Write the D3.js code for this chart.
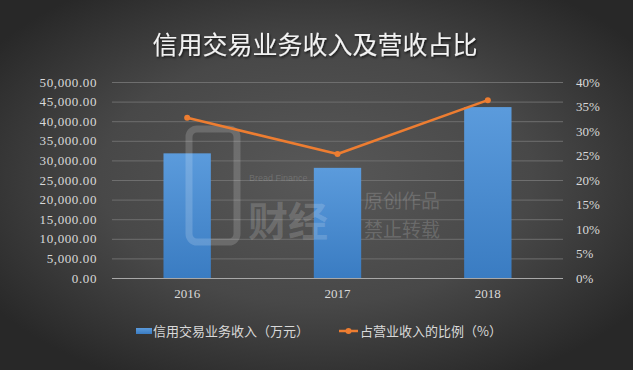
<!DOCTYPE html>
<html>
<head>
<meta charset="utf-8">
<script src="https://cdn.jsdelivr.net/npm/d3@7"></script>
<style>
  body { margin: 0; background: #333; }
  svg { display: block; }
</style>
</head>
<body>
<div id="chart-area"></div>
<script>
const width = 633,
  height = 370;

const margin = {top: 82, right: 70, bottom: 92, left: 112};

// data
const years = ["2016", "2017", "2018"];
const income = [31800, 28100, 43600];      // 信用交易业务收入（万元）
const ratio = [32.7, 25.3, 36.3];          // 占营业收入的比例（%）
const leftTicks = [0, 5000, 10000, 15000, 20000, 25000, 30000, 35000, 40000, 45000, 50000];
const rightTicks = [0, 5, 10, 15, 20, 25, 30, 35, 40];

const svg = d3.select("#chart-area")
  .append("svg")
  .attr("width", width)
  .attr("height", height);

const defs = svg.append("defs");
const bg = defs.append("radialGradient")
  .attr("id", "bg")
  .attr("cx", "50%").attr("cy", "48%").attr("r", "62%");
bg.append("stop").attr("offset", "0%").attr("stop-color", "#585858");
bg.append("stop").attr("offset", "55%").attr("stop-color", "#484848");
bg.append("stop").attr("offset", "100%").attr("stop-color", "#282828");

const barGrad = defs.append("linearGradient")
  .attr("id", "barGrad")
  .attr("x1", 0).attr("y1", 0).attr("x2", 0).attr("y2", 1);
barGrad.append("stop").attr("offset", "0%").attr("stop-color", "#5b9bdc");
barGrad.append("stop").attr("offset", "100%").attr("stop-color", "#3a7cc2");

const shadow = defs.append("filter").attr("id", "shadow");
shadow.append("feDropShadow")
  .attr("dx", 1).attr("dy", 1.5).attr("stdDeviation", 1.2)
  .attr("flood-color", "#000").attr("flood-opacity", 0.7);

svg.append("rect")
  .attr("width", width)
  .attr("height", height)
  .attr("fill", "url(#bg)");

// scales
const x = d3.scaleBand()
  .domain(years)
  .range([margin.left, width - margin.right]);

const y = d3.scaleLinear()
  .domain([0, 50000])
  .range([height - margin.bottom, margin.top]);

const y2 = d3.scaleLinear()
  .domain([0, 40])
  .range([height - margin.bottom, margin.top]);

const serif = "'Liberation Serif', 'DejaVu Serif', serif";
const cjk = "'Noto Sans CJK SC', sans-serif";

// grid
svg.append("g")
  .selectAll("line")
  .data(leftTicks)
  .join("line")
  .attr("x1", margin.left)
  .attr("x2", width - margin.right)
  .attr("y1", d => y(d) + 0.5)
  .attr("y2", d => y(d) + 0.5)
  .attr("stroke", d => d === 0 ? "#a8a8a8" : "#6e6e6e")
  .attr("stroke-width", 1);

// left axis
const yAxis = g => g
  .attr("transform", `translate(${margin.left - 12},0)`)
  .call(d3.axisLeft(y).tickValues(leftTicks).tickSize(0).tickFormat(d3.format(",.2f")))
  .call(g => g.select(".domain").remove())
  .call(g => g.selectAll("text")
    .attr("fill", "#d9d9d9")
    .attr("font-family", serif)
    .attr("font-size", 13)
    .attr("letter-spacing", 0.6));

// right axis
const y2Axis = g => g
  .attr("transform", `translate(${width - margin.right + 10},0)`)
  .call(d3.axisRight(y2).tickValues(rightTicks).tickSize(0).tickFormat(d => d + "%"))
  .call(g => g.select(".domain").remove())
  .call(g => g.selectAll("text")
    .attr("fill", "#d9d9d9")
    .attr("font-family", serif)
    .attr("font-size", 13));

// bottom axis
const xAxis = g => g
  .attr("transform", `translate(0,${height - margin.bottom + 8})`)
  .call(d3.axisBottom(x).tickSize(0))
  .call(g => g.select(".domain").remove())
  .call(g => g.selectAll("text")
    .attr("fill", "#d9d9d9")
    .attr("font-family", serif)
    .attr("font-size", 13));

svg.append("g").call(yAxis);
svg.append("g").call(y2Axis);
svg.append("g").call(xAxis);

// bars
const barW = x.bandwidth() * 0.315;
svg.append("g")
  .selectAll("rect")
  .data(income)
  .join("rect")
  .attr("x", (d, i) => x(years[i]) + x.bandwidth() / 2 - barW / 2)
  .attr("y", d => y(d))
  .attr("width", barW)
  .attr("height", d => y(0) - y(d))
  .attr("fill", "url(#barGrad)");

// watermark (sits over the bars)
const wm = svg.append("g")
  .attr("fill", "#ffffff")
  .attr("fill-opacity", 0.17)
  .attr("font-family", cjk);
wm.append("rect")
  .attr("x", 189).attr("y", 129).attr("width", 48).attr("height", 113)
  .attr("rx", 8)
  .attr("fill", "none")
  .attr("stroke", "#ffffff")
  .attr("stroke-opacity", 0.17)
  .attr("stroke-width", 7);
wm.append("text").attr("x", 249).attr("y", 181).attr("font-size", 9)
  .attr("font-family", "'Liberation Sans', sans-serif").text("Bread Finance");
wm.append("text").attr("x", 248).attr("y", 236).attr("font-size", 40)
  .attr("font-weight", "bold").text("财经");
wm.append("text").attr("x", 364).attr("y", 208).attr("font-size", 19).text("原创作品");
wm.append("text").attr("x", 364).attr("y", 237).attr("font-size", 19).text("禁止转载");

// line
const line = d3.line()
  .x((d, i) => x(years[i]) + x.bandwidth() / 2)
  .y(d => y2(d));

svg.append("path")
  .datum(ratio)
  .attr("fill", "none")
  .attr("stroke", "#ed7d31")
  .attr("stroke-width", 2.5)
  .attr("stroke-linejoin", "round")
  .attr("d", line);

svg.append("g")
  .selectAll("circle")
  .data(ratio)
  .join("circle")
  .attr("cx", (d, i) => x(years[i]) + x.bandwidth() / 2)
  .attr("cy", d => y2(d))
  .attr("r", 3)
  .attr("fill", "#ed7d31");

// title
svg.append("text")
  .attr("x", 315)
  .attr("y", 54)
  .attr("text-anchor", "middle")
  .attr("fill", "#f2f2f2")
  .attr("font-family", cjk)
  .attr("font-size", 25)
  .attr("filter", "url(#shadow)")
  .text("信用交易业务收入及营收占比");

// legend
const legend = svg.append("g")
  .attr("font-family", cjk)
  .attr("font-size", 13)
  .attr("fill", "#d9d9d9");

legend.append("rect")
  .attr("x", 136).attr("y", 328).attr("width", 16).attr("height", 6)
  .attr("fill", "url(#barGrad)");
legend.append("text")
  .attr("x", 153).attr("y", 336)
  .text("信用交易业务收入（万元）");

legend.append("line")
  .attr("x1", 339).attr("x2", 358).attr("y1", 331).attr("y2", 331)
  .attr("stroke", "#ed7d31").attr("stroke-width", 2.5);
legend.append("circle")
  .attr("cx", 348.5).attr("cy", 331).attr("r", 3)
  .attr("fill", "#ed7d31");
legend.append("text")
  .attr("x", 360).attr("y", 336)
  .text("占营业收入的比例（%）");
</script>
</body>
</html>
